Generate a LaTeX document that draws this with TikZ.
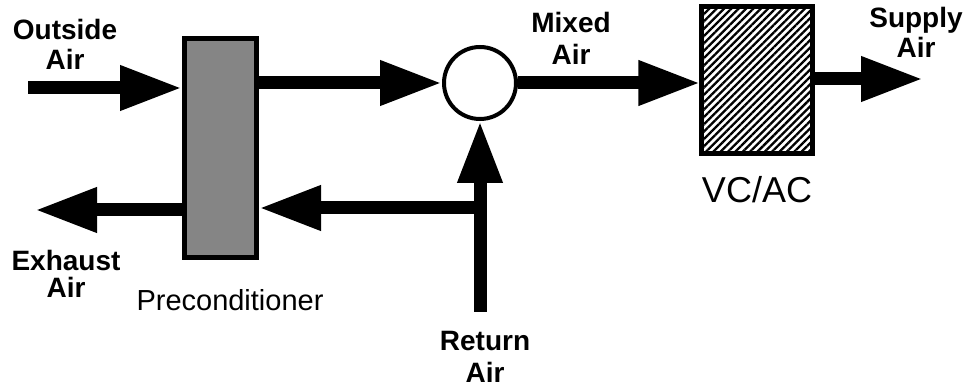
\documentclass[tikz,border=0pt]{standalone}
\usepackage{fontspec}
\setmainfont{Liberation Sans}
\usetikzlibrary{arrows.meta,patterns.meta}

\tikzset{
  flow/.style={line width=13pt, -{Triangle[length=62pt,width=42pt]}},
  unit/.style={draw, line width=5pt, rectangle, inner sep=0pt},
  mixer/.style={draw, line width=4pt, circle, inner sep=0pt, minimum size=72pt, fill=white},
  % two-line stream labels, placed by the baseline of their last line
  tag/.style={font=\bfseries\fontsize{28}{30}\selectfont, align=center, inner sep=0pt, anchor=base},
  caption/.style={font=\fontsize{29}{32}\selectfont, inner sep=0pt, anchor=base}
}

\begin{document}
\begin{tikzpicture}[x=1pt, y=-1pt]
  \useasboundingbox (0,0) rectangle (969,387);

  % equipment
  \node[unit, fill=black!48, minimum width=72pt, minimum height=219pt] (pc) at (220.5,148) {};
  \node[unit, pattern={Lines[angle=45,distance=5.2pt,line width=2.3pt]},
        minimum width=111pt, minimum height=147pt] (vc) at (757,80) {};
  \node[mixer] (mix) at (480,83) {};

  % free ends of the air streams
  \coordinate (oa) at (28,88);
  \coordinate (sa) at (923,79);
  \coordinate (ra) at (480,312);
  \coordinate (jn) at (480,208);
  \coordinate (ex) at (35,210);

  % air streams
  \draw[flow] (oa) -- (oa -| pc.west);
  \draw[flow] (pc.east |- mix.west) -- (mix.west);
  \draw[flow] (mix.east) -- (mix.east -| vc.west);
  \draw[flow] (sa -| vc.east) -- (sa);
  \draw[flow] (ra) -- (mix.south);
  \draw[flow] (jn) -- (jn -| pc.east);
  \draw[flow] (ex -| pc.west) -- (ex);

  % labels
  \node[tag] (lo) at (65,70) {Outside\\Air};
  \node[tag] (lm) at (571,65) {Mixed\\[2pt]Air};
  \node[tag] (ls) at (916,58) {Supply\\Air};
  \node[tag] (le) at (66,298) {Exhaust\\[-3pt]Air};
  \node[tag] (lr) at (485,382) {Return\\[2pt]Air};
  \node[caption] (lp) at (230,310) {Preconditioner};
  \node[caption, font=\fontsize{36}{40}\selectfont] (lv) at (757,203) {VC/AC};
\end{tikzpicture}
\end{document}
